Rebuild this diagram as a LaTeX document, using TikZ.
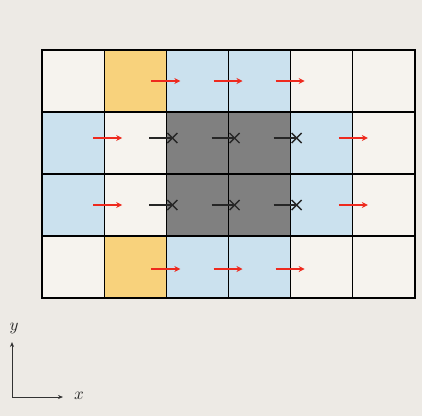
\documentclass[tikz,border=0pt]{standalone}
\usepackage{graphicx}
\usetikzlibrary{arrows.meta,calc}
\definecolor{bg}{HTML}{EDEAE5}
\definecolor{cream}{HTML}{F6F3EE}
\definecolor{orange}{HTML}{F8D27C}
\definecolor{blue}{HTML}{CBE1EE}
\definecolor{grey}{HTML}{808080}
\definecolor{flowred}{HTML}{EE2A1E}
\begin{document}
\begin{tikzpicture}[x=1pt,y=-1pt,
  cell/.style={draw=black, line width=1.1pt, minimum width=62.17pt, minimum height=62pt,
    inner sep=0pt, outer sep=0pt, anchor=north west},
  redarrow/.style={draw=flowred, line width=1.6pt, -{Stealth[length=6pt,width=6pt]}},
  blkline/.style={draw=black!85, line width=1.4pt},
  axis/.style={draw=black!80, line width=0.7pt, -{Stealth[length=5pt,width=4pt]}},
  lbl/.style={inner sep=0pt, text=black!85}]
\fill[bg] (0,0) rectangle (422,416);
\useasboundingbox (0,0) rectangle (422,416);
% cells
\foreach \c/\col in {1/cream,2/orange,3/blue,4/blue,5/cream,6/cream}
  \node[cell, fill=\col] (c-1-\c) at ({42+62.17*(\c-1)},50) {};
\foreach \c/\col in {1/blue,2/cream,3/grey,4/grey,5/blue,6/cream}
  \node[cell, fill=\col] (c-2-\c) at ({42+62.17*(\c-1)},112) {};
\foreach \c/\col in {1/blue,2/cream,3/grey,4/grey,5/blue,6/cream}
  \node[cell, fill=\col] (c-3-\c) at ({42+62.17*(\c-1)},174) {};
\foreach \c/\col in {1/cream,2/orange,3/blue,4/blue,5/cream,6/cream}
  \node[cell, fill=\col] (c-4-\c) at ({42+62.17*(\c-1)},236) {};
% red arrows rows 1 and 4
\foreach \c in {2,3,4}{
  \draw[redarrow] ($(c-1-\c.east)+(-15,0)$) -- ($(c-1-\c.east)+(14,0)$);
  \draw[redarrow] ($(c-4-\c.east)+(-15,2)$) -- ($(c-4-\c.east)+(14,2)$);
}
% rows 2 and 3
\foreach \r/\dy in {2/-5,3/0}{
  \draw[redarrow] ($(c-\r-1.east)+(-11,\dy)$) -- ($(c-\r-1.east)+(18,\dy)$);
  \draw[redarrow] ($(c-\r-5.east)+(-14,\dy)$) -- ($(c-\r-5.east)+(15,\dy)$);
  \foreach \c in {2,3,4}{
    \coordinate (s-\r-\c) at ($(c-\r-\c.east)+(-17,\dy)$);
    \coordinate (x-\r-\c) at ($(c-\r-\c.east)+(6,\dy)$);
    \draw[blkline] (s-\r-\c) -- (x-\r-\c);
    \draw[blkline] ($(x-\r-\c)+(-5,-5)$) -- ($(x-\r-\c)+(5,5)$);
    \draw[blkline] ($(x-\r-\c)+(-5,5)$) -- ($(x-\r-\c)+(5,-5)$);
  }
}
% axes
\coordinate (O) at (12,397);
\coordinate (xe) at (63,397);
\coordinate (ye) at (12,342);
\draw[axis] (O) -- (xe);
\draw[axis] (O) -- (ye);
\node[lbl] (xl) at (79,396) {\scalebox{1.7}{$x$}};
\node[lbl] (yl) at (14,328) {\scalebox{1.7}{$y$}};
\end{tikzpicture}
\end{document}
